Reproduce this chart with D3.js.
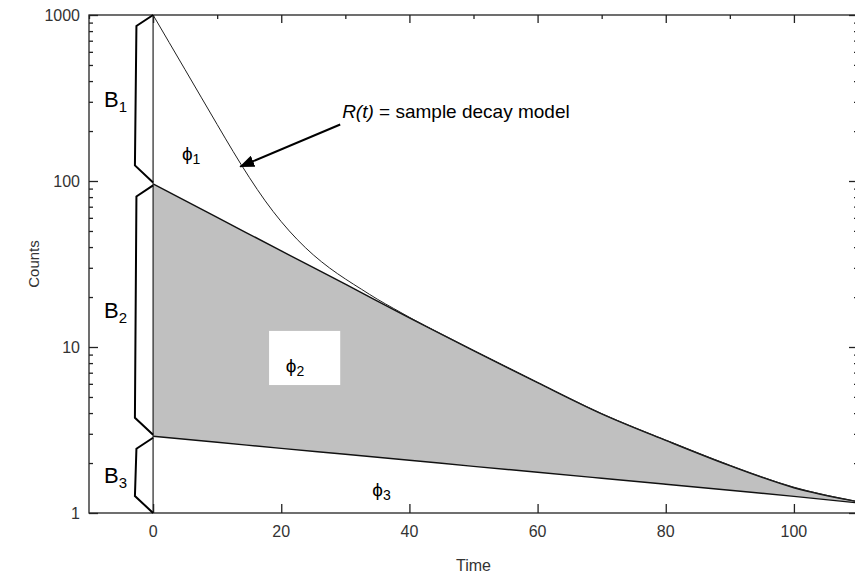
<!DOCTYPE html>
<html>
<head>
<meta charset="utf-8">
<script src="https://cdn.jsdelivr.net/npm/d3@7"></script>
<style>
  body { margin: 0; background: #fff; }
  svg { display: block; }
  text { font-family: "Liberation Sans", Arial, sans-serif; }
</style>
</head>
<body>
<div id="container"></div>
<script>
(function(){

    const width = 855;
    const height = 576;
    const margin = {top: 15, right: -3, bottom: 63, left: 89};

    // sample decay model R(t) (upper curve)
    const modelTime   = [0, 2.5, 5, 7.5, 10, 12.5, 15, 17.5, 20, 22.5, 25, 27.5, 30, 32.5, 35, 37.5, 40, 50, 60, 70, 80, 90, 100, 110];
    const modelCounts = [1000, 684, 468, 320, 219, 150.4, 105.3, 75.9, 56.9, 44.4, 35.9, 30.0, 25.7, 22.3, 19.4, 17.1, 15.1, 9.55, 6.12, 3.97, 2.75, 1.94, 1.43, 1.17];

    // components: B2+B3 (top of grey band) and B3 (bottom of grey band)
    const compTime   = [0, 10, 20, 30, 40, 50, 60, 70, 80, 90, 100, 110];
    const comp23     = [96, 60.4, 37.9, 23.9, 15.0, 9.5, 6.1, 3.96, 2.74, 1.93, 1.42, 1.17];
    const comp3      = [2.9, 2.67, 2.45, 2.26, 2.08, 1.91, 1.76, 1.62, 1.49, 1.37, 1.26, 1.15];

    // amplitude brackets on the left
    const braceNames = ["1", "2", "3"];
    const braceLow   = [96, 2.9, 1];
    const braceHigh  = [1000, 96, 2.9];

    // axis ticks
    const xTicks      = [0, 20, 40, 60, 80, 100];
    const xMinorTicks = [-10, 10, 30, 50, 70, 90, 110];
    const yTicks      = [1, 10, 100, 1000];

    const x = d3.scaleLinear([-10, 110], [margin.left, width - margin.right]);
    const y = d3.scaleLog([1, 1000], [height - margin.bottom, margin.top]);

    const svg = d3.select("#container").append("svg")
        .attr("width", width)
        .attr("height", height);

    svg.append("defs").append("marker")
        .attr("id", "head")
        .attr("viewBox", "0 0 15 12")
        .attr("refX", 14).attr("refY", 6)
        .attr("markerWidth", 15).attr("markerHeight", 12)
        .attr("markerUnits", "userSpaceOnUse")
        .attr("orient", "auto")
      .append("path")
        .attr("d", "M0,0L15,6L0,12Z")
        .attr("fill", "#000");

    // ---------------------------------------------------------- grey band
    const band = compTime.map((t, i) => ({t, hi: comp23[i], lo: comp3[i]}));

    svg.append("path")
        .datum(band)
        .attr("fill", "#c0c0c0")
        .attr("d", d3.area()
            .x(d => x(d.t))
            .y0(d => y(d.lo))
            .y1(d => y(d.hi))
            .curve(d3.curveMonotoneX));

    const lineOf = key => d3.line()
        .x(d => x(d.t))
        .y(d => y(d[key]))
        .curve(d3.curveMonotoneX);

    svg.append("path").datum(band)
        .attr("fill", "none").attr("stroke", "#111").attr("stroke-width", 1.4)
        .attr("d", lineOf("hi"));
    svg.append("path").datum(band)
        .attr("fill", "none").attr("stroke", "#111").attr("stroke-width", 1.4)
        .attr("d", lineOf("lo"));

    const model = modelTime.map((t, i) => ({t, v: modelCounts[i]}));
    svg.append("path").datum(model)
        .attr("fill", "none").attr("stroke", "#222").attr("stroke-width", 1)
        .attr("d", lineOf("v"));

    // white box behind phi2
    svg.append("rect")
        .attr("x", x(18.1)).attr("y", y(12.5))
        .attr("width", x(29.2) - x(18.1))
        .attr("height", y(5.9) - y(12.5))
        .attr("fill", "#fff");

    // t = 0 line
    svg.append("line")
        .attr("x1", x(0)).attr("x2", x(0))
        .attr("y1", y(1)).attr("y2", y(1000))
        .attr("stroke", "#222").attr("stroke-width", 1.2);

    // ---------------------------------------------------------- frame + axes
    const axisColor = "#222";
    const gAxes = svg.append("g");

    gAxes.append("rect")
        .attr("x", x(-10)).attr("y", y(1000))
        .attr("width", x(110) - x(-10))
        .attr("height", y(1) - y(1000))
        .attr("fill", "none").attr("stroke", axisColor).attr("stroke-width", 1.3);

    const bottom = gAxes.append("g")
        .attr("transform", `translate(0,${y(1)})`)
        .call(d3.axisTop(x).tickValues(xTicks).tickSize(9).tickFormat(""));
    bottom.select(".domain").remove();
    gAxes.append("g")
        .attr("transform", `translate(0,${y(1) + 12})`)
        .selectAll("text").data(xTicks).join("text")
        .attr("x", d => x(d)).attr("y", 12)
        .attr("text-anchor", "middle")
        .style("font-size", "16px").attr("fill", "#333")
        .text(d => d);

    const top = gAxes.append("g")
        .attr("transform", `translate(0,${y(1000)})`)
        .call(d3.axisBottom(x).tickValues(xTicks).tickSize(8).tickFormat(""));
    top.select(".domain").remove();
    const topMinor = gAxes.append("g")
        .attr("transform", `translate(0,${y(1000)})`)
        .call(d3.axisBottom(x).tickValues(xMinorTicks).tickSize(4).tickFormat(""));
    topMinor.select(".domain").remove();

    const minorY = d3.range(1, 4).flatMap(p => d3.range(2, 10).map(m => m * Math.pow(10, p - 1)));

    [["left", 1], ["right", -1]].forEach(([side, dir]) => {
        const x0 = side === "left" ? x(-10) : x(110);
        const ax = dir > 0 ? d3.axisRight(y) : d3.axisLeft(y);
        const g = gAxes.append("g").attr("transform", `translate(${x0},0)`)
            .call(ax.tickValues(yTicks).tickSize(9).tickFormat(""));
        g.select(".domain").remove();
        const gm = gAxes.append("g").attr("transform", `translate(${x0},0)`)
            .call((dir > 0 ? d3.axisRight(y) : d3.axisLeft(y)).tickValues(minorY).tickSize(4).tickFormat(""));
        gm.select(".domain").remove();
    });

    gAxes.selectAll(".tick line").attr("stroke", axisColor).attr("stroke-width", 1.3);

    gAxes.append("g").selectAll("text").data(yTicks).join("text")
        .attr("x", x(-10) - 9).attr("y", d => y(d))
        .attr("dy", "0.35em")
        .attr("text-anchor", "end")
        .style("font-size", "16px").attr("fill", "#333")
        .text(d => d);

    svg.append("text")
        .attr("transform", `translate(39,${(y(1) + y(1000)) / 2}) rotate(-90)`)
        .attr("text-anchor", "middle")
        .style("font-size", "15px").attr("fill", "#333")
        .text("Counts");

    svg.append("text")
        .attr("x", x(50)).attr("y", 571)
        .attr("text-anchor", "middle")
        .style("font-size", "16px").attr("fill", "#333")
        .text("Time");

    // ---------------------------------------------------------- brackets
    const braceX = x(-2.6);
    braceNames.forEach((name, i) => {
        const yHi = y(braceHigh[i]) + (i === 0 ? 0 : 1.5);
        const yLo = y(braceLow[i]) - (i === 2 ? 0 : 1.5);
        svg.append("path")
            .attr("d", `M${x(0)},${yHi}L${braceX},${yHi + 11}L${braceX - 1.5},${yLo - 17}L${x(0)},${yLo}`)
            .attr("fill", "none").attr("stroke", "#000").attr("stroke-width", 2)
            .attr("stroke-linejoin", "miter");
        const t = svg.append("text")
            .attr("x", 104).attr("y", (yHi + yLo) / 2 + 8)
            .style("font-size", "22px").attr("fill", "#000")
            .text("B");
        t.append("tspan").attr("dy", 5).style("font-size", "15px").text(name);
    });

    // ---------------------------------------------------------- phi labels
    const phi = (tx, vy, sub) => {
        const t = svg.append("text")
            .attr("x", x(tx)).attr("y", y(vy))
            .style("font-size", "19px").attr("fill", "#000")
            .text("\u03D5");
        t.append("tspan").attr("dy", 4).style("font-size", "14px").text(sub);
    };
    phi(4.5, 133, "1");
    phi(20.7, 7.1, "2");
    phi(34.2, 1.27, "3");

    // ---------------------------------------------------------- annotation
    svg.append("line")
        .attr("x1", x(29.2)).attr("y1", y(219))
        .attr("x2", x(13.6)).attr("y2", y(122))
        .attr("stroke", "#000").attr("stroke-width", 2)
        .attr("marker-end", "url(#head)");

    const ann = svg.append("text")
        .attr("x", x(29.5)).attr("y", y(241))
        .style("font-size", "19px").attr("fill", "#000");
    ann.append("tspan").style("font-style", "italic").text("R(t)");
    ann.append("tspan").text(" = sample decay model");

})();
</script>
</body>
</html>
